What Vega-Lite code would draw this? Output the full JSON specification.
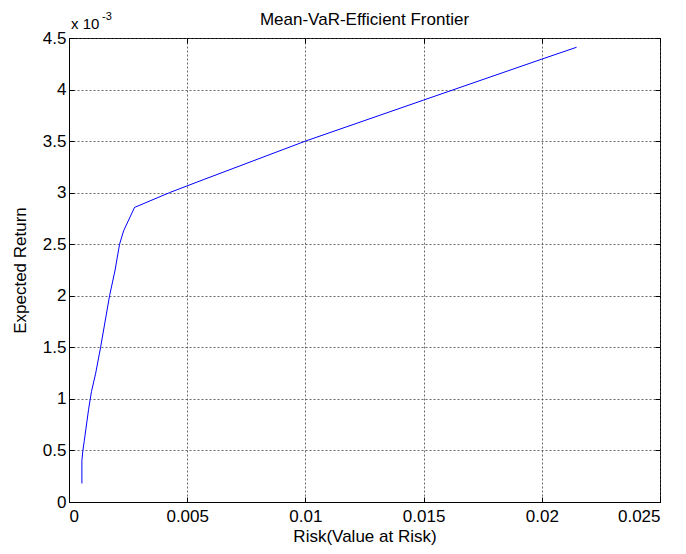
{
  "$schema": "https://vega.github.io/schema/vega-lite/v6.json",
  "width": 591,
  "height": 464,
  "autosize": "none",
  "padding": {"left": 69, "top": 38, "right": 26, "bottom": 52},
  "background": "white",
  "config": {
    "font": "Liberation Sans",
    "view": {"stroke": "black", "strokeWidth": 1},
    "axis": {
      "labelFont": "Liberation Sans",
      "titleFont": "Liberation Sans",
      "labelFontSize": 17,
      "titleFontSize": 17,
      "labelColor": "black",
      "titleColor": "black",
      "titleFontWeight": "normal",
      "domainColor": "black",
      "tickColor": "black",
      "gridColor": "#444",
      "gridDash": [2, 2],
      "gridOpacity": 0.8
    }
  },
  "title": {
    "text": "Mean-VaR-Efficient Frontier",
    "font": "Liberation Sans",
    "fontSize": 17,
    "fontWeight": "normal",
    "color": "black",
    "offset": -18
  },
  "data": {
    "values": [
      {"risk": 0.000545, "ret": 0.18},
      {"risk": 0.000545, "ret": 0.40},
      {"risk": 0.000588, "ret": 0.50},
      {"risk": 0.00065, "ret": 0.60},
      {"risk": 0.00083, "ret": 0.90},
      {"risk": 0.00095, "ret": 1.07},
      {"risk": 0.00113, "ret": 1.25},
      {"risk": 0.001336, "ret": 1.50},
      {"risk": 0.001716, "ret": 2.00},
      {"risk": 0.00195, "ret": 2.25},
      {"risk": 0.002139, "ret": 2.50},
      {"risk": 0.00231, "ret": 2.63},
      {"risk": 0.002773, "ret": 2.857},
      {"risk": 0.00425, "ret": 3.00},
      {"risk": 0.0055, "ret": 3.11},
      {"risk": 0.01, "ret": 3.50},
      {"risk": 0.015, "ret": 3.898},
      {"risk": 0.02, "ret": 4.295},
      {"risk": 0.02147, "ret": 4.41}
    ]
  },
  "layer": [
    {
      "mark": {"type": "line", "color": "#0000ff", "strokeWidth": 1, "clip": true},
      "encoding": {
        "x": {
          "field": "risk", "type": "quantitative",
          "scale": {"domain": [0, 0.025], "nice": false, "zero": false},
          "axis": {
            "orient": "bottom",
            "title": "Risk(Value at Risk)",
            "values": [0, 0.005, 0.01, 0.015, 0.02, 0.025],
            "labelExpr": "datum.value == 0 ? '0' : format(datum.value, '~g')",
            "tickSize": -5,
            "labelPadding": 11,
            "titlePadding": 4,
            "grid": true
          }
        },
        "y": {
          "field": "ret", "type": "quantitative",
          "scale": {"domain": [0, 4.5], "nice": false, "zero": false},
          "axis": {
            "orient": "left",
            "title": "Expected Return",
            "values": [0, 0.5, 1, 1.5, 2, 2.5, 3, 3.5, 4, 4.5],
            "labelExpr": "format(datum.value, '~g')",
            "tickSize": -5,
            "labelPadding": 8,
            "titlePadding": 13,
            "grid": true
          }
        }
      }
    },
    {
      "data": {"values": [{"risk": 0, "ret": 4.5, "t": "x 10"}]},
      "mark": {"type": "text", "align": "left", "baseline": "alphabetic", "dx": 2, "dy": -9, "fontSize": 15, "font": "Liberation Sans", "color": "black"},
      "encoding": {
        "x": {"field": "risk", "type": "quantitative", "axis": {"orient": "top", "labels": false, "title": null, "grid": false, "tickSize": -5, "values": [0, 0.005, 0.01, 0.015, 0.02, 0.025], "domain": false}},
        "y": {"field": "ret", "type": "quantitative", "axis": {"orient": "right", "labels": false, "title": null, "grid": false, "tickSize": -5, "values": [0, 0.5, 1, 1.5, 2, 2.5, 3, 3.5, 4, 4.5], "domain": false}},
        "text": {"field": "t"}
      }
    },
    {
      "data": {"values": [{"risk": 0, "ret": 4.5, "t": "-3"}]},
      "mark": {"type": "text", "align": "left", "baseline": "alphabetic", "dx": 33, "dy": -18, "fontSize": 11, "font": "Liberation Sans", "color": "black"},
      "encoding": {
        "x": {"field": "risk", "type": "quantitative", "axis": null},
        "y": {"field": "ret", "type": "quantitative", "axis": null},
        "text": {"field": "t"}
      }
    }
  ],
  "resolve": {"axis": {"x": "independent", "y": "independent"}}
}
